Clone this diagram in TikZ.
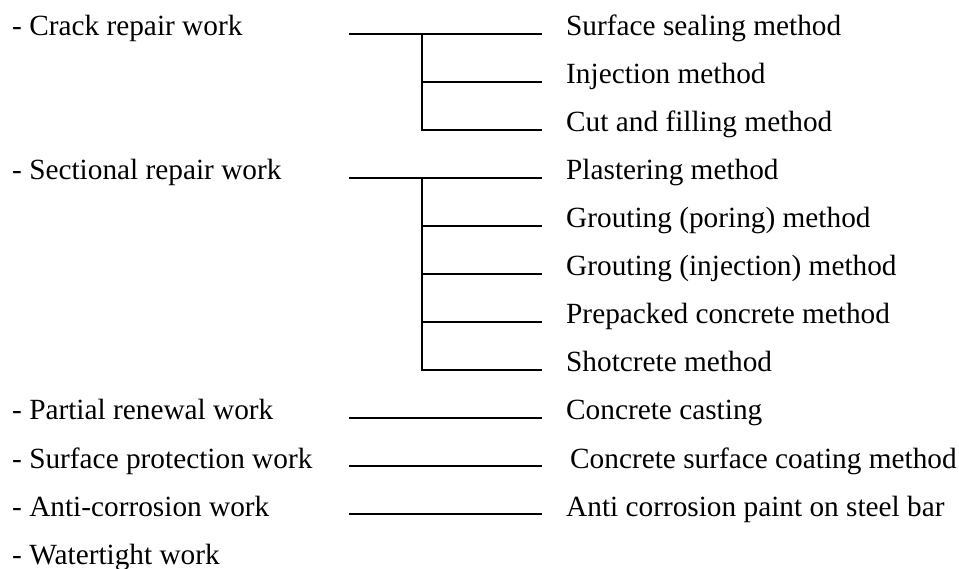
\documentclass[tikz,border=0pt]{standalone}
\usepackage{fontspec}
\setmainfont{Liberation Serif}
\usetikzlibrary{calc}

\begin{document}
\begin{tikzpicture}[
  x=1pt, y=-1pt,
  every node/.style={font=\fontsize{29.3}{34}\selectfont, inner sep=0pt, anchor=base west},
  link/.style={line width=2pt},
  tip/.style={shift={(-24pt,2pt)}}
]
  \useasboundingbox (0,0) rectangle (959,569);

  % kinds of work
  \node (crw) at (12,36)  {- Crack repair work};
  \node (srw) at (12,180) {- Sectional repair work};
  \node (prw) at (12,420) {- Partial renewal work};
  \node (spw) at (12,468) {- Surface protection work};
  \node (acw) at (12,516) {- Anti-corrosion work};
  \node (wtw) at (12,564) {- Watertight work};

  % methods
  \node (ssm) at (566,36)  {Surface sealing method};
  \node (inj) at (566,84)  {Injection method};
  \node (cfm) at (566,132) {Cut and filling method};
  \node (pla) at (566,180) {Plastering method};
  \node (grp) at (566,228) {Grouting (poring) method};
  \node (gri) at (566,276) {Grouting (injection) method};
  \node (ppc) at (566,324) {Prepacked concrete method};
  \node (shc) at (566,372) {Shotcrete method};
  \node (cca) at (566,420) {Concrete casting};
  \node (csc) at (570,468) {Concrete surface coating method};
  \node (acp) at (566,516) {Anti corrosion paint on steel bar};

  % line ends
  \coordinate (crwS) at (349,34);
  \coordinate (crwJ) at (422,34);
  \coordinate (srwS) at (349,178);
  \coordinate (srwJ) at (422,178);
  \coordinate (prwS) at (349,418);
  \coordinate (spwS) at (349,466);
  \coordinate (acwS) at (349,514);
  \coordinate (ssmE) at ([tip]ssm.base west);
  \coordinate (injE) at ([tip]inj.base west);
  \coordinate (cfmE) at ([tip]cfm.base west);
  \coordinate (plaE) at ([tip]pla.base west);
  \coordinate (grpE) at ([tip]grp.base west);
  \coordinate (griE) at ([tip]gri.base west);
  \coordinate (ppcE) at ([tip]ppc.base west);
  \coordinate (shcE) at ([tip]shc.base west);
  \coordinate (ccaE) at ([tip]cca.base west);
  \coordinate (cscE) at ([shift={(-28pt,2pt)}]csc.base west);
  \coordinate (acpE) at ([tip]acp.base west);

  \draw[link] (crwS) -- (ssmE);
  \draw[link] (crwJ) |- (injE);
  \draw[link] (crwJ) |- (cfmE);

  \draw[link] (srwS) -- (plaE);
  \draw[link] (srwJ) |- (grpE);
  \draw[link] (srwJ) |- (griE);
  \draw[link] (srwJ) |- (ppcE);
  \draw[link] (srwJ) |- (shcE);

  \draw[link] (prwS) -- (ccaE);
  \draw[link] (spwS) -- (cscE);
  \draw[link] (acwS) -- (acpE);
\end{tikzpicture}
\end{document}
